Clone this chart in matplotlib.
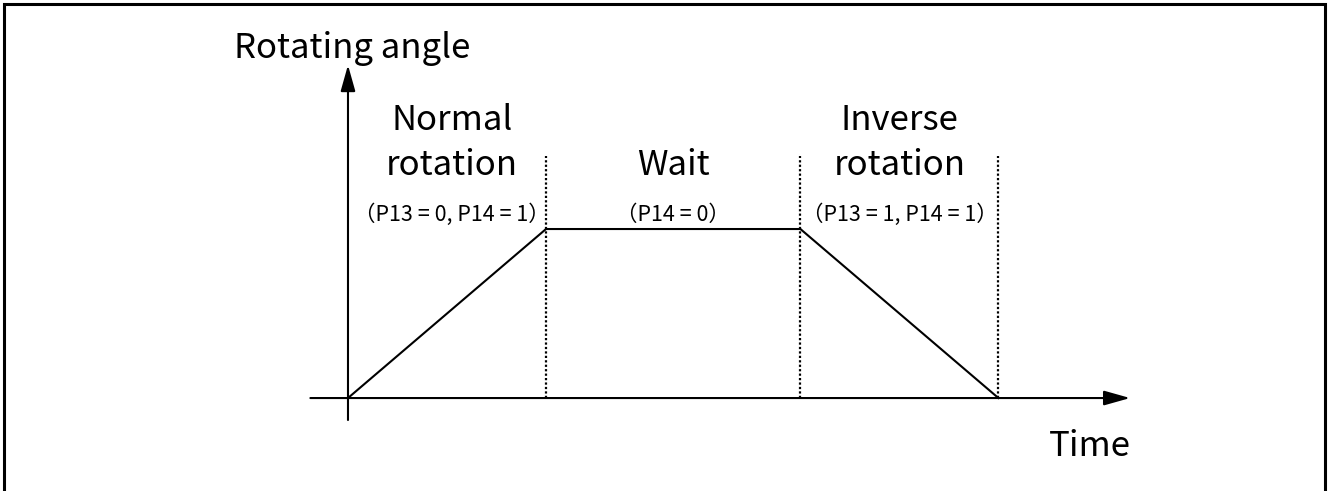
import matplotlib
matplotlib.use('Agg')
import matplotlib.pyplot as plt
from matplotlib.patches import Rectangle

plt.rcParams['font.family'] = ['Noto Sans CJK JP', 'DejaVu Sans']

# profile: time breakpoints and rotating angle
time = [0, 2.0, 4.57, 6.57]
angle = [0, 1, 1, 0]

phase_titles = [['Normal', 'rotation'], ['Wait'], ['Inverse', 'rotation']]
phase_params = ['（P13 = 0, P14 = 1）', '（P14 = 0）', '（P13 = 1, P14 = 1）']

fig = plt.figure(figsize=(13.28, 4.91), dpi=100)
ax = fig.add_axes([0, 0, 1, 1])
ax.set_xlim(-3.515, 9.899)
ax.set_ylim(-0.550, 2.355)
ax.axis('off')

# border around the picture (bottom edge falls outside)
fig.patches.append(Rectangle((0.003, -0.02), 0.9947, 1.012, transform=fig.transFigure,
                             fill=False, edgecolor='black', linewidth=2.2))

# axes with arrow heads
arrow = dict(arrowstyle='-|>,head_length=1.6,head_width=0.45',
             color='black', lw=1.5, shrinkA=0, shrinkB=0)
ax.annotate('', xy=(7.9, 0), xytext=(-0.38, 0), arrowprops=arrow)
ax.annotate('', xy=(0, 1.97), xytext=(0, -0.13), arrowprops=arrow)

# profile line
ax.plot(time, angle, color='black', lw=1.5)

# dotted phase boundaries
for t in time[1:]:
    ax.plot([t, t], [0, 1.43], color='black', lw=1.6, linestyle=(0, (1.0, 1.0)))

# phase labels
for i, (title, par) in enumerate(zip(phase_titles, phase_params)):
    xc = (time[i] + time[i + 1]) / 2
    if i == 0:
        xc += 0.05
    for line, y in zip(title[::-1], [1.32, 1.586]):
        ax.text(xc, y, line, ha='center', va='baseline', fontsize=25)
    ax.text(xc, 1.047, par, ha='center', va='baseline', fontsize=15.5)

ax.text(0.04, 2.012, 'Rotating angle', ha='center', va='baseline', fontsize=25)
ax.text(7.495, -0.343, 'Time', ha='center', va='baseline', fontsize=25)

fig.savefig('out.png', dpi=100)
